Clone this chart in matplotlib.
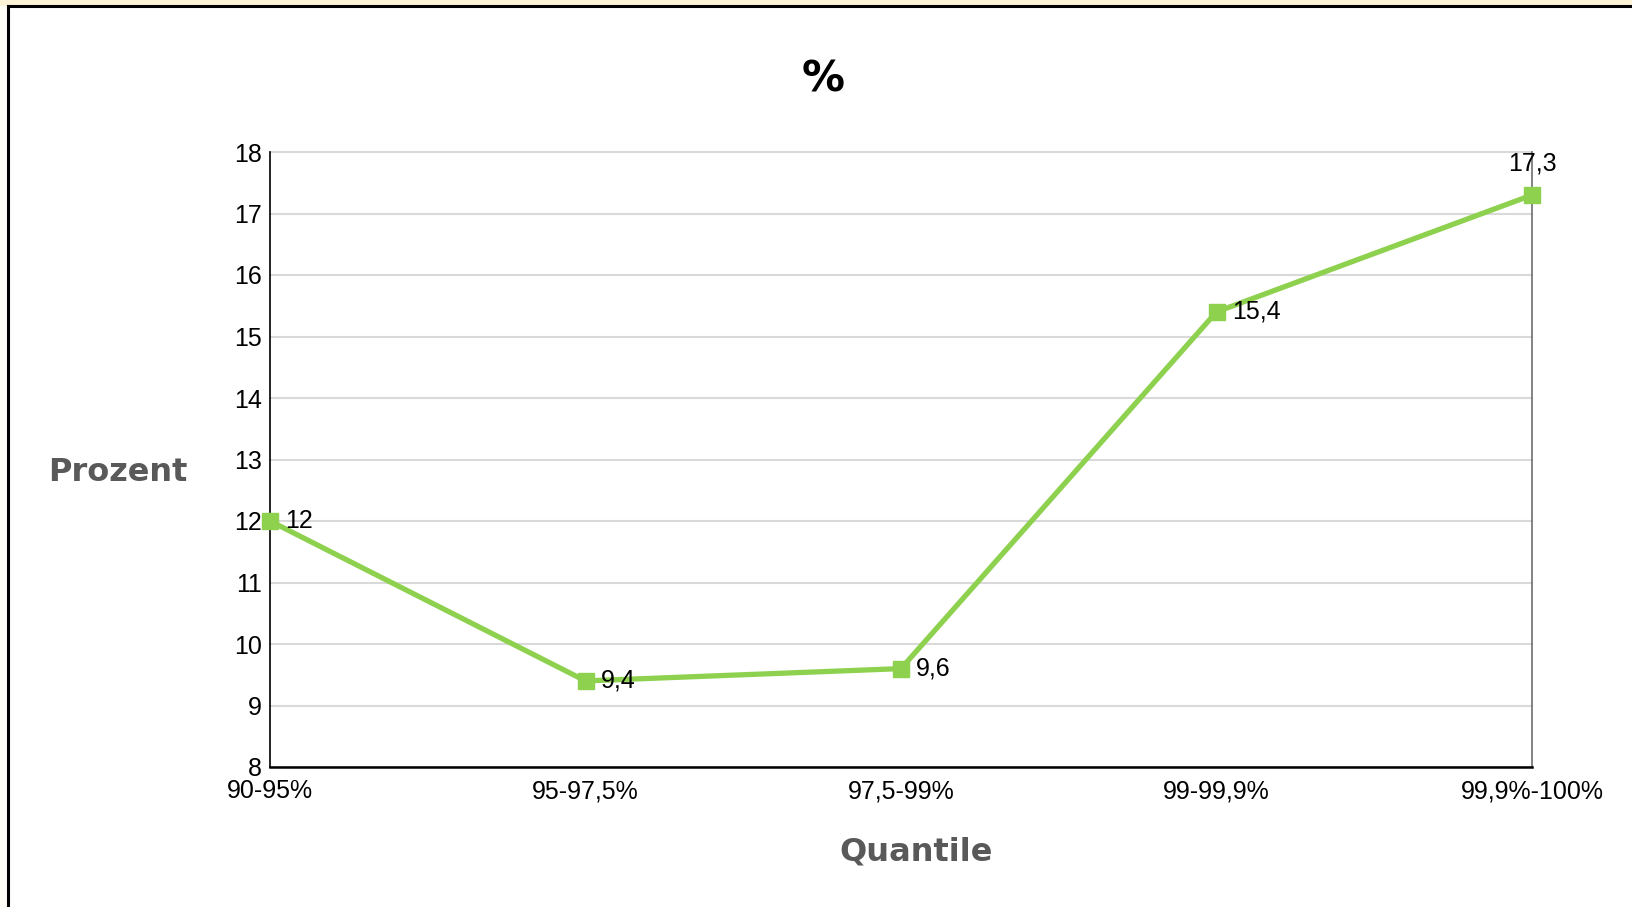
import matplotlib
matplotlib.use("Agg")
import matplotlib.pyplot as plt
from matplotlib.patches import Rectangle
from matplotlib.lines import Line2D

quantiles = ["90-95%", "95-97,5%", "97,5-99%", "99-99,9%", "99,9%-100%"]
prozent = [12, 9.4, 9.6, 15.4, 17.3]
y_ticks = list(range(8, 19))

LINE_GREEN = "#8ed14f"
LABEL_GREY = "#595959"

W, H = 1633, 907
fig = plt.figure(figsize=(W / 100, H / 100), dpi=100)
fig.patch.set_facecolor("white")

# page strip and frame around the chart
fig.patches.append(Rectangle((0, 1 - 6 / H), 1, 6 / H, transform=fig.transFigure,
                             facecolor="#fcf2d6", edgecolor="none", zorder=0))
fig.patches.append(Rectangle((0, 0), 8 / W, 1 - 6 / H, transform=fig.transFigure,
                             facecolor="#fffdf6", edgecolor="none", zorder=0))
fig.lines.append(Line2D([8 / W, 1], [1 - 6 / H, 1 - 6 / H], transform=fig.transFigure,
                        color="black", lw=2.2))
fig.lines.append(Line2D([8 / W, 8 / W], [0, 1 - 6 / H], transform=fig.transFigure,
                        color="black", lw=2.2))

left, right, top, bottom = 270, 1532, 152, 767
ax = fig.add_axes([left / W, 1 - bottom / H, (right - left) / W, (bottom - top) / H])

x = list(range(len(quantiles)))
ax.plot(x, prozent, color=LINE_GREEN, lw=3.8, marker="s", markersize=11.5,
        clip_on=False, zorder=5)

for i, v in enumerate(prozent):
    txt = f"{v:g}".replace(".", ",")
    if i == len(prozent) - 1:
        ax.annotate(txt, (i, v), xytext=(0, 14), textcoords="offset points",
                    ha="center", va="bottom", fontsize=18, family="Liberation Sans",
                    zorder=6)
    else:
        ax.annotate(txt, (i, v), xytext=(11, 0), textcoords="offset points",
                    ha="left", va="center", fontsize=18, family="Liberation Sans",
                    zorder=6)

ax.set_xlim(0, len(quantiles) - 1)
ax.set_ylim(8, 18)
ax.set_yticks(y_ticks)
ax.set_xticks(x)
ax.set_xticklabels(quantiles)
ax.tick_params(length=0, labelsize=18, pad=6)
ax.tick_params(axis="x", pad=9)
for lab in ax.get_xticklabels() + ax.get_yticklabels():
    lab.set_family("Liberation Sans")

ax.grid(axis="y", color="#d9d9d9", lw=1.5)
for gl in ax.get_ygridlines():
    gl.set_clip_on(False)
ax.set_axisbelow(True)
ax.spines["top"].set_visible(False)
ax.spines["left"].set_color("black")
ax.spines["left"].set_linewidth(1.2)
ax.spines["bottom"].set_color("black")
ax.spines["bottom"].set_linewidth(1.8)
ax.spines["right"].set_color("#6e6e6e")
ax.spines["right"].set_linewidth(1.2)

fig.text(823 / W, 1 - 79 / H, "%", ha="center", va="center", fontsize=31,
         fontweight="bold", family="DejaVu Sans")
fig.text(118 / W, 1 - 472 / H, "Prozent", ha="center", va="center", fontsize=23,
         fontweight="bold", family="DejaVu Sans", color=LABEL_GREY)
fig.text(916 / W, 1 - 852 / H, "Quantile", ha="center", va="center", fontsize=23,
         fontweight="bold", family="DejaVu Sans", color=LABEL_GREY)

fig.savefig("out.png", dpi=100)
